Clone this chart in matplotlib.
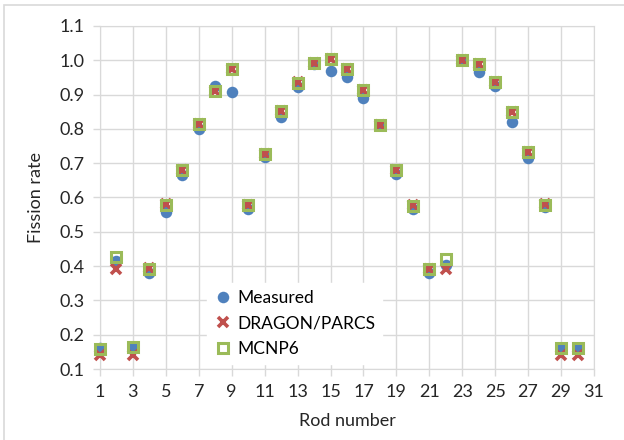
import matplotlib
matplotlib.use('Agg')
import matplotlib.pyplot as plt
from matplotlib.patches import Rectangle

plt.rcParams['font.family'] = ['Lato', 'DejaVu Sans']

# rod numbers and fission rates
rods = list(range(1, 31))
measured = [0.160, 0.415, 0.160, 0.381, 0.558, 0.666, 0.801, 0.925, 0.907, 0.567,
            0.717, 0.836, 0.921, 0.990, 0.968, 0.952, 0.891, 0.812, 0.668, 0.566,
            0.379, 0.403, 1.000, 0.965, 0.925, 0.821, 0.716, 0.572, 0.160, 0.160]
dragon = [0.141, 0.392, 0.141, 0.395, 0.580, 0.681, 0.813, 0.911, 0.976, 0.579,
          0.727, 0.851, 0.936, 0.991, 1.005, 0.976, 0.913, 0.812, 0.680, 0.578,
          0.393, 0.393, 1.001, 0.989, 0.938, 0.848, 0.732, 0.580, 0.141, 0.141]
mcnp = [0.158, 0.426, 0.164, 0.392, 0.578, 0.680, 0.813, 0.911, 0.975, 0.579,
        0.727, 0.852, 0.935, 0.991, 1.004, 0.975, 0.913, 0.812, 0.680, 0.575,
        0.393, 0.420, 1.001, 0.989, 0.938, 0.848, 0.732, 0.578, 0.161, 0.161]

xticks = list(range(1, 32, 2))
yticks = [0.1, 0.2, 0.3, 0.4, 0.5, 0.6, 0.7, 0.8, 0.9, 1.0, 1.1]

fig = plt.figure(figsize=(6.24, 4.4), dpi=100)
ax = fig.add_axes([100/624, 71/440, 494/624, 343/440])

# outer chart-area frame (only top/left visible in the original)
fig.patches.append(Rectangle((4/624, -0.1), 1.1, (435 + 44)/440, transform=fig.transFigure,
                             fill=False, edgecolor='#d9d9d9', linewidth=1.2, zorder=0))

grid_c = '#d9d9d9'
txt_c = '#262626'
fs = 13
ax.plot(rods, measured, 'o', color='#4f81bd', markersize=8.3, markeredgewidth=0,
        label='Measured', zorder=3, clip_on=False)
ax.plot(rods, dragon, 'x', color='#c0504d', markersize=7, markeredgewidth=2.6,
        label='DRAGON/PARCS', zorder=4, clip_on=False)
ax.plot(rods, mcnp, 's', markerfacecolor='none', markeredgecolor='#9bbb59', markersize=7.5,
        markeredgewidth=2.2, label='MCNP6', zorder=5, clip_on=False)

ax.set_xlim(1, 31)
ax.set_ylim(0.1, 1.1)
ax.set_xticks(xticks)
ax.set_yticks(yticks)
ax.set_yticklabels(['%.1f' % v for v in yticks])
ax.grid(True, color=grid_c, linewidth=1)
ax.set_axisbelow(True)
for s in ax.spines.values():
    s.set_color(grid_c)
ax.tick_params(axis='both', colors=grid_c, labelcolor=txt_c, labelsize=fs,
               length=5, width=1, pad=6)

ax.set_xlabel('Rod number', fontsize=fs, color=txt_c, labelpad=9)
ax.set_ylabel('Fission rate', fontsize=fs, color=txt_c, labelpad=11)

leg = ax.legend(loc='upper left', bbox_to_anchor=(107/494, (369 - 283)/343),
                frameon=True, fontsize=12.5, handletextpad=0.25, borderpad=0.4,
                labelspacing=0.55, handlelength=1.1, borderaxespad=0)
leg.get_frame().set_edgecolor('white')
leg.get_frame().set_facecolor('white')
leg.get_frame().set_alpha(1)
leg.get_frame().set_boxstyle('square', pad=0)

fig.savefig('out.png', dpi=100)
